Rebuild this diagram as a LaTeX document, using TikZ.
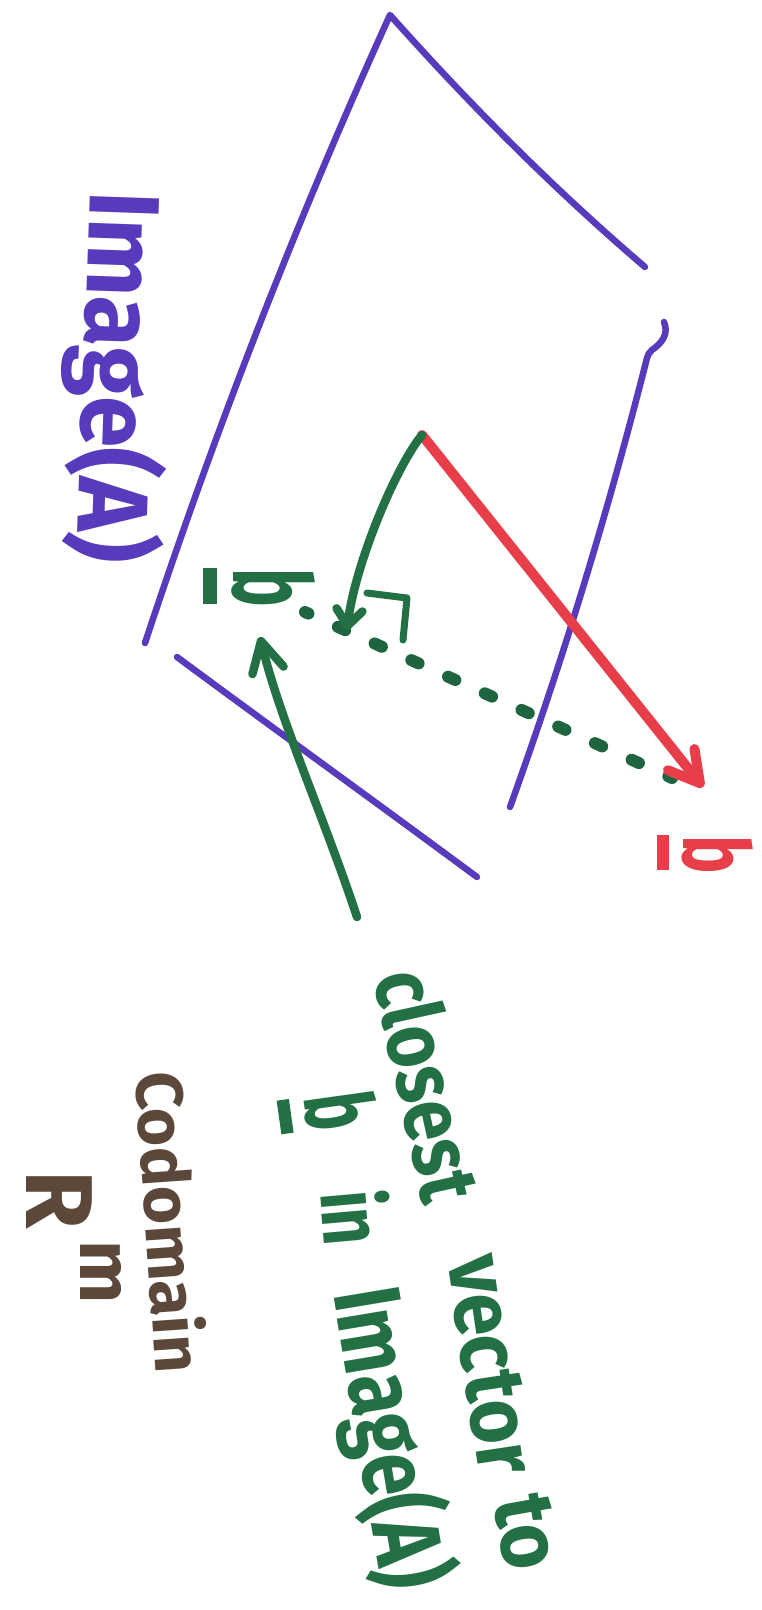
\documentclass[tikz,border=0pt]{standalone}
\usepackage{fontspec}
\setmainfont{Fira Sans}
\usetikzlibrary{arrows.meta}
\definecolor{ipurple}{RGB}{88,58,188}
\definecolor{ired}{RGB}{232,62,74}
\definecolor{igreen}{RGB}{34,112,68}
\definecolor{idkgreen}{RGB}{30,100,62}
\definecolor{ibrown}{RGB}{92,72,58}
\newcommand{\fsz}[1]{\bfseries\fontsize{#1}{#1}\selectfont}
\newcommand{\ulb}[1]{\rlap{\rule[-0.28em]{0.55em}{0.13em}}#1}
\begin{document}
\begin{tikzpicture}[x=1pt,y=-1pt,
  purp/.style={draw=ipurple, line width=6.5pt, line cap=round, line join=round},
  redarr/.style={draw=ired, line width=10pt, line cap=round, -{Straight Barb[round,length=30pt,width=34pt]}},
  grarr/.style={draw=igreen, line width=8.5pt, line cap=round, -{Straight Barb[round,length=16pt,width=26pt]}},
  grarrB/.style={draw=igreen, line width=8.5pt, line cap=round, -{Straight Barb[round,length=30pt,width=32pt]}},
  grline/.style={draw=igreen, line width=7pt, line cap=round, line join=round},
  dots/.style={draw=idkgreen, line width=12pt, line cap=round, dash pattern=on 8pt off 32.3pt, dash phase=4pt},
  txt/.style={inner sep=0pt, outer sep=0pt, anchor=base west}
]
\fill[white] (0,0) rectangle (762,1610);
\useasboundingbox (0,0) rectangle (762,1610);
% plane Image(A)
\draw[purp] (145,643) .. controls (214,434) and (295,224) .. (390,15) .. controls (471,106) and (555,190) .. (645,267);
\draw[purp] (664,322) .. controls (669,334) and (662,343) .. (652,350) .. controls (649,352) and (648,355) .. (647,358) .. controls (609,508) and (564,657) .. (510,807);
\draw[purp] (177,657) .. controls (277,731) and (377,803) .. (477,877);
% points
\coordinate (O) at (422,435);
\coordinate (B) at (703,787);
\coordinate (H) at (347,630);
\coordinate (D1) at (672,778);
\coordinate (D2) at (305,612);
\coordinate (R1) at (367,593);
\coordinate (R2) at (407,598);
\coordinate (R3) at (403,640);
\coordinate (T) at (357,917);
\coordinate (A) at (260,637);
% vectors
\draw[dots] (D1) -- (D2);
\draw[redarr] (O) -- (B);
\draw[grarr] (O) .. controls (395,468) and (355,565) .. (H);
\draw[grline] (R1) -- (R2) -- (R3);
\draw[grarrB] (T) .. controls (325,820) and (280,720) .. (A);
% labels
\node[txt, text=ipurple, font=\fsz{100}, rotate=-92, xscale=0.93] (img) at (90,190) {Image(A)};
\node[txt, text=ired, font=\fsz{92}, rotate=-90, xscale=0.7] (bl) at (683,835) {\ulb{b}};
\node[txt, text=igreen, font=\fsz{108}, rotate=-90, xscale=0.6] (bh) at (233,568) {\ulb{b}};
% caption
\node[txt, text=igreen, font=\fsz{85}, rotate=-77.6, xscale=0.85] (w1) at (373,977) {closest};
\node[txt, text=igreen, font=\fsz{85}, rotate=-81.5, xscale=0.9] (w2) at (447,1259) {vector};
\node[txt, text=igreen, font=\fsz{85}, rotate=-80, xscale=0.92] (w3) at (493,1500) {to};
\node[txt, text=igreen, font=\fsz{95}, rotate=-82, xscale=0.65] (w4) at (303,1097) {\ulb{b}};
\node[txt, text=igreen, font=\fsz{85}, rotate=-85, xscale=0.75] (w5) at (320,1193) {in};
\node[txt, text=igreen, font=\fsz{95}, rotate=-80.5, xscale=0.8] (w6) at (333,1293) {Image(A)};
\node[txt, text=ibrown, font=\fsz{66}, rotate=-86, xscale=1.0] (cod) at (135,1073) {Codomain};
\node[txt, text=ibrown, font=\fsz{95}, rotate=-90] (Rr) at (27,1170) {R};
\node[txt, text=ibrown, font=\fsz{75}, rotate=-90] (Rm) at (80,1240) {m};
\end{tikzpicture}
\end{document}
